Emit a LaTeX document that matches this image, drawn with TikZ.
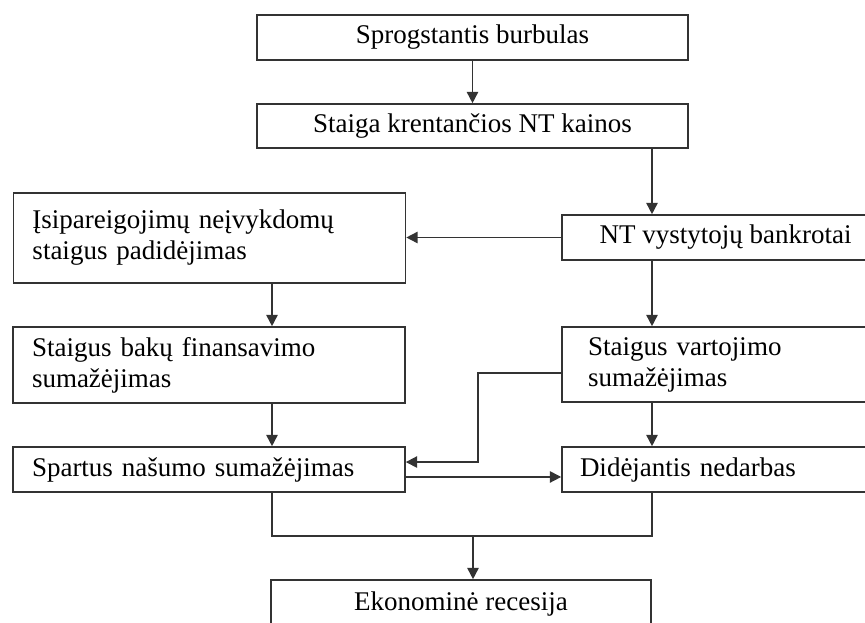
\documentclass[tikz,border=0pt]{standalone}
\usepackage{fontspec}
\setmainfont{Liberation Serif}
\usetikzlibrary{arrows.meta}
\tikzset{
  box/.style={draw=black!80, line width=1.2pt, inner sep=0pt, font=\fontsize{20.25}{23.25}\selectfont},
  conn/.style={draw=black!80, line width=1.2pt},
  arr/.style={conn, -{Triangle[length=8.5pt,width=8.5pt]}}
}
\begin{document}
\begin{tikzpicture}[x=0.75pt,y=0.75pt,yscale=-1,xscale=1]
\useasboundingbox (0,0) rectangle (865,622);
\clip (0,0) rectangle (865,622);
%columns of the vertical connectors
\coordinate (lcol) at (272,0);
\coordinate (rcol) at (652,0);
\coordinate (join) at (473,536);
% Top boxes
\node[box, minimum width=323.25pt, minimum height=33.75pt] (burst) at (472.5,37.5) {Sprogstantis burbulas};
\node[box, minimum width=323.25pt, minimum height=33pt] (fall) at (472.5,126) {Staiga krentančios NT kainos};
% Right column
\node[box, minimum width=245.25pt, minimum height=33.75pt] (bankr) at (725.5,237.5) {NT vystytojų bankrotai};
\node[box, text width=206.25pt, inner xsep=19.5pt, minimum height=56.25pt, align=left] (cons) at (725.5,364.5) {Staigus vartojimo\\sumažėjimas};
\node[box, text width=218.25pt, inner xsep=13.5pt, minimum height=33.75pt, align=left] (unemp) at (725.5,469.5) {Didėjantis nedarbas};
% Left column
\node[box, text width=265.5pt, inner xsep=14.25pt, minimum height=67.5pt, align=left] (oblig) at (209.5,238) {Įsipareigojimų neįvykdomų\\staigus padidėjimas};
\node[box, text width=265.5pt, inner xsep=14.25pt, minimum height=57pt, align=left] (bank) at (209,365) {Staigus bakų finansavimo\\sumažėjimas};
\node[box, text width=265.5pt, inner xsep=14.25pt, minimum height=33.75pt, align=left] (prod) at (209,469.5) {Spartus našumo sumažėjimas};
% Bottom box
\node[box, minimum width=285pt, minimum height=36pt] (rec) at (461,604) {Ekonominė recesija};
% Connectors
\draw[arr] (burst) -- (fall);
\draw[arr] (fall.south -| rcol) -- (bankr.north -| rcol);
\draw[arr] (bankr.west) -- (bankr.west -| oblig.east);
\draw[arr] (oblig.south -| lcol) -- (bank.north -| lcol);
\draw[arr] (bankr.south -| rcol) -- (cons.north -| rcol);
\draw[arr] (bank.south -| lcol) -- (prod.north -| lcol);
\draw[arr] (cons.south -| rcol) -- (unemp.north -| rcol);
\draw[arr] ([yshift=6.4pt]cons.west) -- ++(-83,0) |- ([yshift=-5.6pt]prod.east);
\draw[arr] ([yshift=5.6pt]prod.east) -- ([yshift=5.6pt]unemp.west);
\draw[conn] (prod.south -| lcol) |- (join) -| (unemp.south -| rcol);
\draw[arr] (join) -- (rec.north -| join);
\end{tikzpicture}
\end{document}
